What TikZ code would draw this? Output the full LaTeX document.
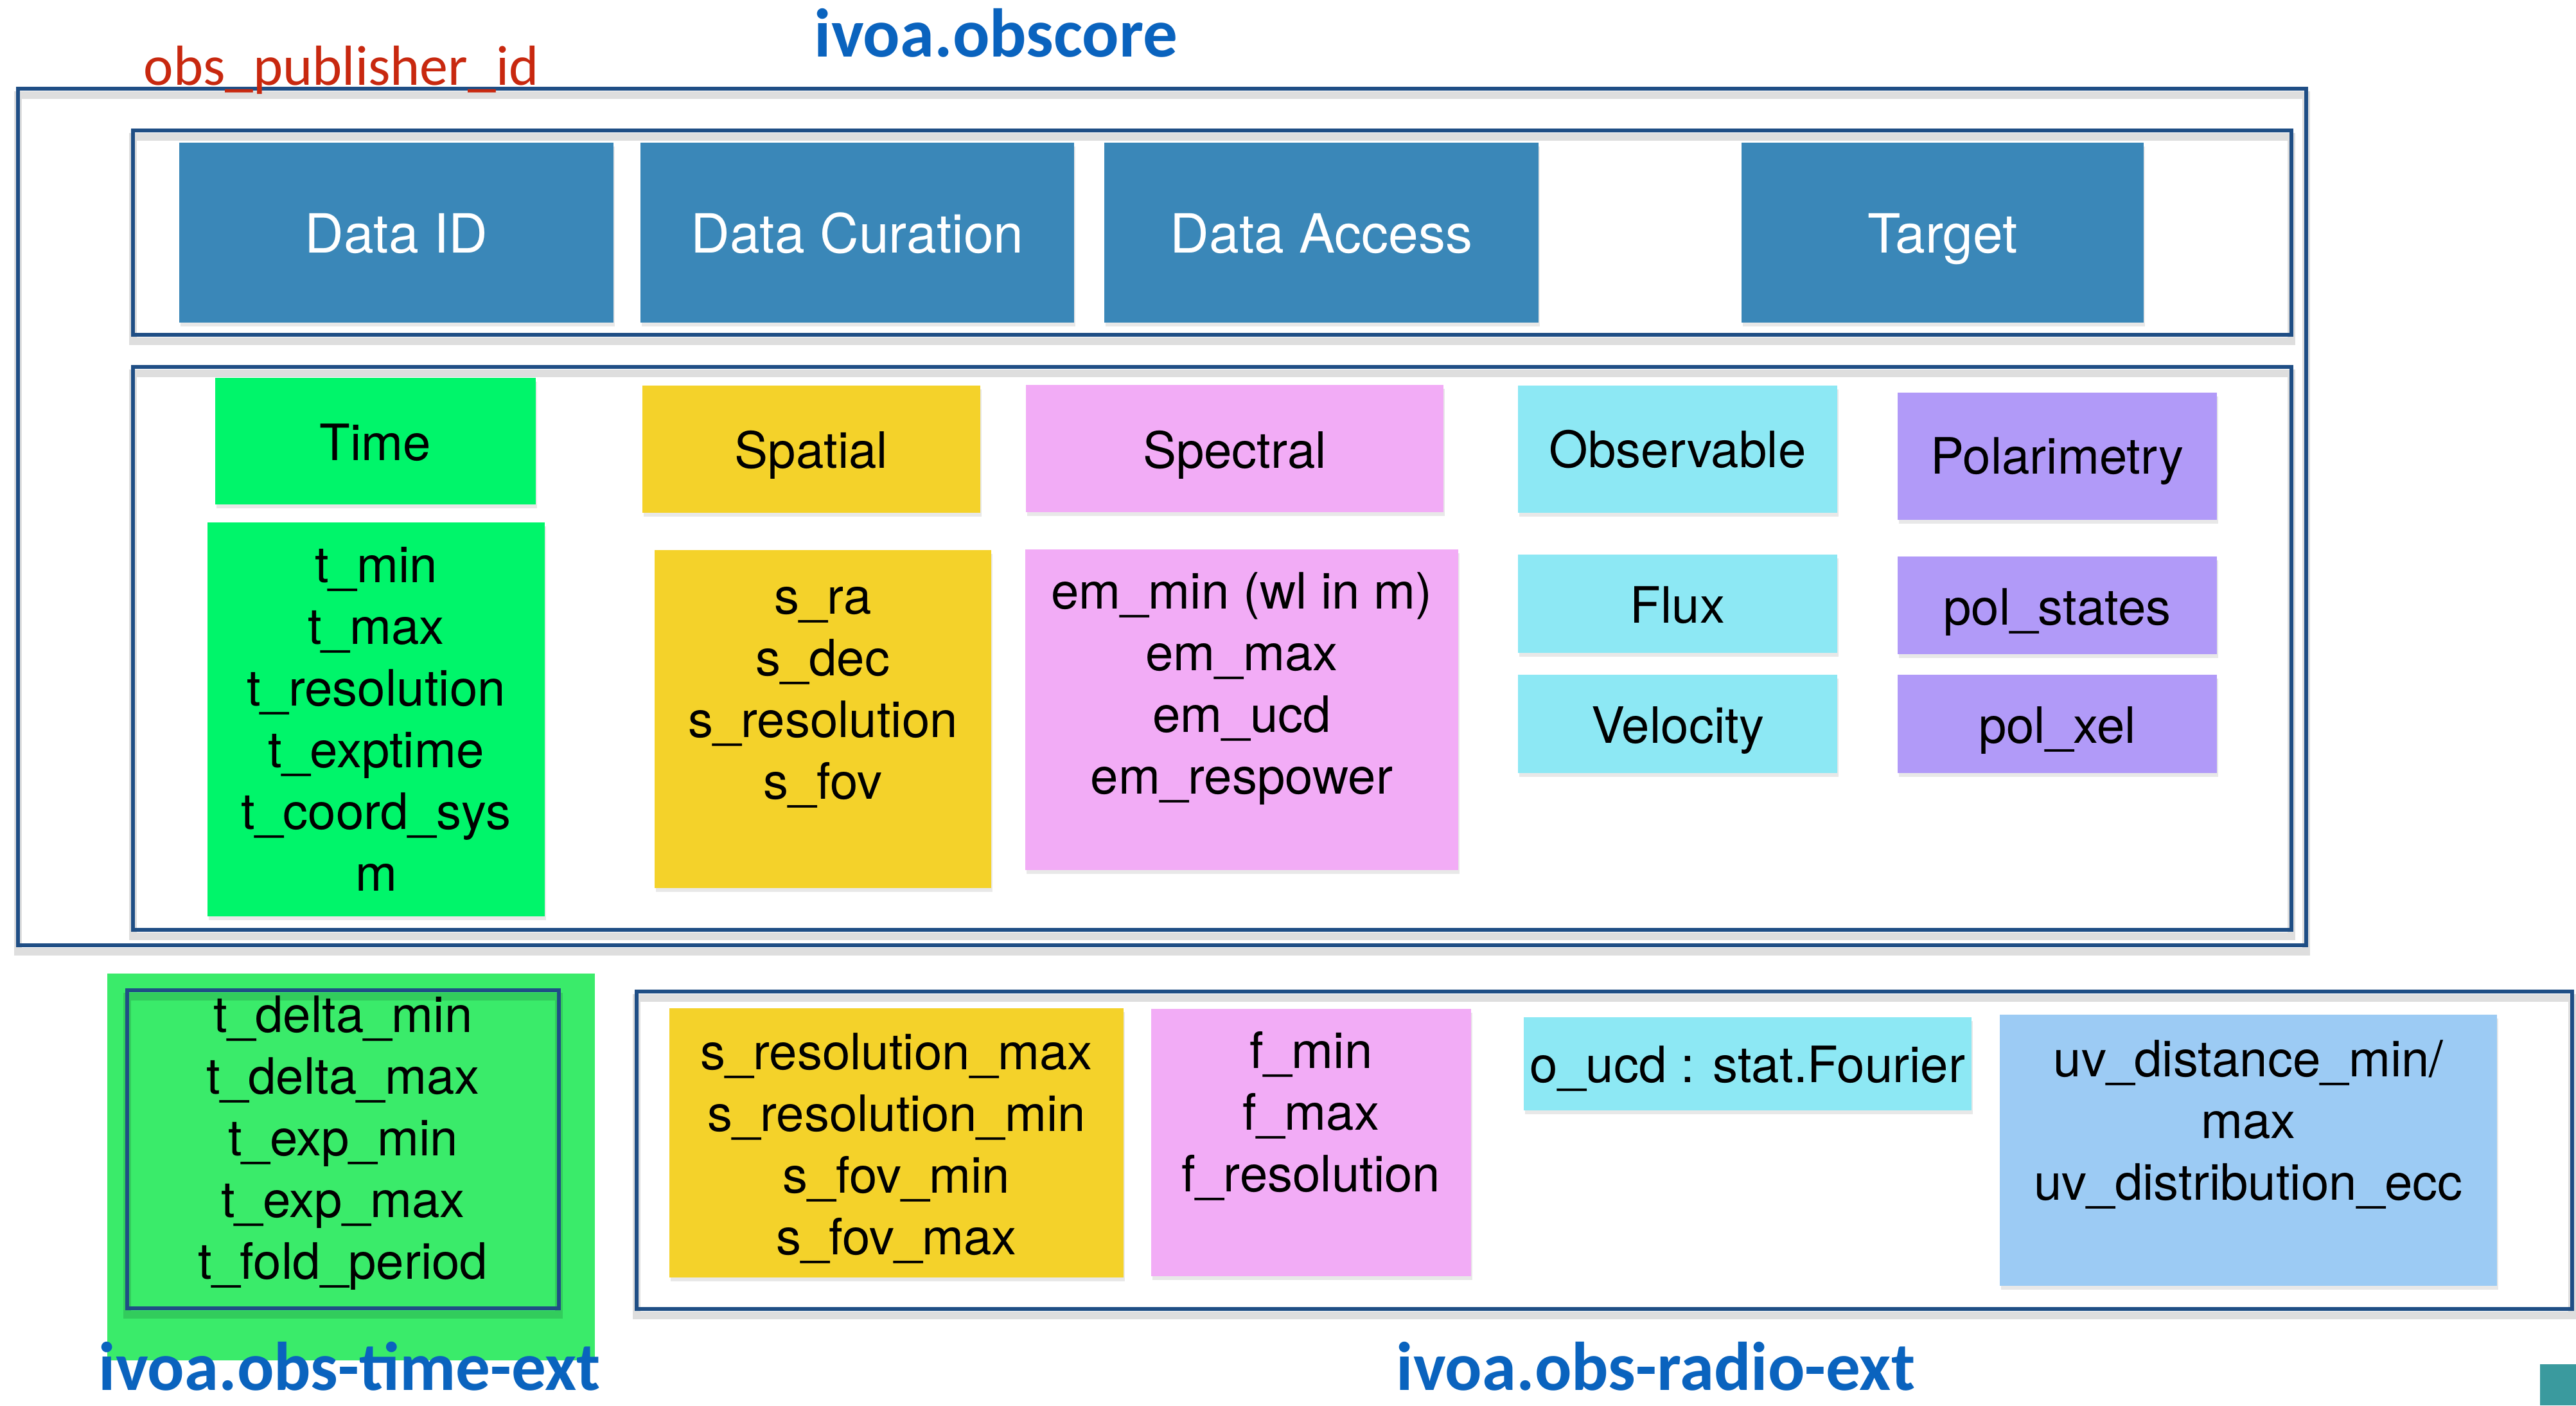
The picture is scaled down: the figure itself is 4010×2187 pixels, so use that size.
\documentclass[tikz,border=0pt]{standalone}
\usepackage{fontspec}
\setmainfont{TeX Gyre Heros}
\newfontfamily\calib{Carlito}
\usetikzlibrary{fit,shadows}
\definecolor{framec}{RGB}{31,78,133}
\definecolor{boxblue}{RGB}{58,135,184}
\definecolor{tgreen}{RGB}{0,245,106}
\definecolor{tgreenbg}{RGB}{58,235,106}
\definecolor{syellow}{RGB}{244,210,42}
\definecolor{spink}{RGB}{242,172,246}
\definecolor{ocyan}{RGB}{141,232,244}
\definecolor{ppurple}{RGB}{177,154,248}
\definecolor{uvblue}{RGB}{156,203,244}
\definecolor{titleblue}{RGB}{10,99,190}
\definecolor{pubred}{RGB}{200,40,15}
\definecolor{teal}{RGB}{58,154,158}
\tikzset{
  frame/.style={draw=framec, line width=1.5pt, inner sep=0pt, outer sep=0pt,
    preaction={draw=black, draw opacity=0.13, line width=3pt, transform canvas={yshift=-2.5pt}}},
  card/.style={inner sep=0pt, outer sep=0pt, drop shadow={opacity=0.18, shadow xshift=0.6pt, shadow yshift=-1.5pt}},
  plain/.style={inner sep=0pt, outer sep=0pt},
  hdr/.style={font={\fontsize{21}{25}\selectfont}, inner sep=0pt, anchor=base},
  txt/.style={font={\fontsize{19.5}{24}\selectfont}, inner sep=0pt, anchor=base, align=center},
  title/.style={font={\calib\bfseries\fontsize{26.8}{30}\selectfont}, text=titleblue, inner sep=0pt, text depth=0pt, anchor=base west},
}
\begin{document}
\begin{tikzpicture}[x=0.25pt,y=-0.25pt]
\path[use as bounding box, fill=white] (0,0) rectangle (4010,2187);

% obscore frames
\node[frame, fit={(28,138)(3590,1471)}] (obscore) {};
\node[frame, fit={(207,203)(3567,521)}] (hdrframe) {};
\node[frame, fit={(207,571)(3567,1447)}] (axisframe) {};

% header cards
\node[card, fill=boxblue, fit={(279,222)(955,502)}] (dataid) {};
\node[card, fill=boxblue, fit={(997,222)(1672,502)}] (datacur) {};
\node[card, fill=boxblue, fit={(1719,222)(2395,502)}] (dataacc) {};
\node[card, fill=boxblue, fit={(2711,222)(3337,502)}] (target) {};
\node[hdr, text=white] (tdataid) at (617,393) {Data ID};
\node[hdr, text=white] (tdatacur) at (1334.5,393) {Data Curation};
\node[hdr, text=white] (tdataacc) at (2057,393) {Data Access};
\node[hdr, text=white] (ttarget) at (3024,393) {Target};

% axis cards
\node[card, fill=tgreen, fit={(335,588)(834,785)}] (time) {};
\node[card, fill=syellow, fit={(1000,600)(1526,798)}] (spatial) {};
\node[card, fill=spink, fit={(1597,599)(2247,797)}] (spectral) {};
\node[card, fill=ocyan, fit={(2363,600)(2860,798)}] (observable) {};
\node[card, fill=ppurple, fit={(2954,611)(3451,809)}] (polar) {};
\node[card, fill=tgreen, fit={(323,813)(848,1426)}] (timev) {};
\node[card, fill=syellow, fit={(1019,856)(1543,1382)}] (spatialv) {};
\node[card, fill=spink, fit={(1596,855)(2270,1354)}] (spectralv) {};
\node[card, fill=ocyan, fit={(2363,863)(2860,1016)}] (flux) {};
\node[card, fill=ocyan, fit={(2363,1050)(2860,1203)}] (velocity) {};
\node[card, fill=ppurple, fit={(2954,866)(3451,1018)}] (polstates) {};
\node[card, fill=ppurple, fit={(2954,1050)(3451,1203)}] (polxel) {};

\node[txt] (ttime) at (584.5,716) {Time};
\node[txt] (tspatial) at (1263,728) {Spatial};
\node[txt] (tspectral) at (1922,728) {Spectral};
\node[txt] (tobservable) at (2611.5,727) {Observable};
\node[txt] (tpolar) at (3202.5,737) {Polarimetry};
\node[txt] (ttimev) at (585.5,1386) {t\_min\\t\_max\\t\_resolution\\t\_exptime\\t\_coord\_sys\\m};
\node[txt] (tspatialv) at (1281,1243) {s\_ra\\s\_dec\\s\_resolution\\s\_fov};
\node[txt] (tspectralv) at (1933,1235) {em\_min (wl in m)\\em\_max\\em\_ucd\\em\_respower};
\node[txt] (tflux) at (2611.5,969) {Flux};
\node[txt] (tvelocity) at (2611.5,1156) {Velocity};
\node[txt] (tpolstates) at (3202.5,972) {pol\_states};
\node[txt] (tpolxel) at (3202.5,1156) {pol\_xel};

% time extension
\node[plain, fill=tgreenbg, fit={(167,1515)(926,2117)}] (timeextbg) {};
\node[frame, fit={(198,1541)(870,2036)}] (timeext) {};
\node[txt] (ttimeext) at (534,1990) {t\_delta\_min\\t\_delta\_max\\t\_exp\_min\\t\_exp\_max\\t\_fold\_period};

% radio extension
\node[frame, fit={(991,1543)(4004,2037)}] (radio) {};
\node[card, fill=syellow, fit={(1042,1569)(1749,1988)}] (sres) {};
\node[card, fill=spink, fit={(1792,1570)(2290,1986)}] (fbox) {};
\node[card, fill=ocyan, fit={(2372,1583)(3069,1728)}] (oucd) {};
\node[card, fill=uvblue, fit={(3113,1579)(3887,2001)}] (uv) {};
\node[txt] (tsres) at (1395.5,1952) {s\_resolution\_max\\s\_resolution\_min\\s\_fov\_min\\s\_fov\_max};
\node[txt] (tfbox) at (2041,1854) {f\_min\\f\_max\\f\_resolution};
\node[txt] (toucd) at (2720.5,1684) {o\_ucd : stat.Fourier};
\node[txt] (tuv) at (3500,1867) {uv\_distance\_min/\\max\\uv\_distribution\_ecc};

% titles
\node[font={\calib\fontsize{22}{26}\selectfont}, text=pubred, inner sep=0pt, anchor=base west] (pubid) at (223,132) {obs\_publisher\_id};
\node[title] (tobscore) at (1267,88) {ivoa.obscore};
\node[title] (ttimetitle) at (153,2163) {ivoa.obs-time-ext};
\node[title] (tradiotitle) at (2173,2163) {ivoa.obs-radio-ext};

\node[plain, fill=teal, fit={(3954,2123)(4010,2187)}] (teal) {};
\end{tikzpicture}
\end{document}
